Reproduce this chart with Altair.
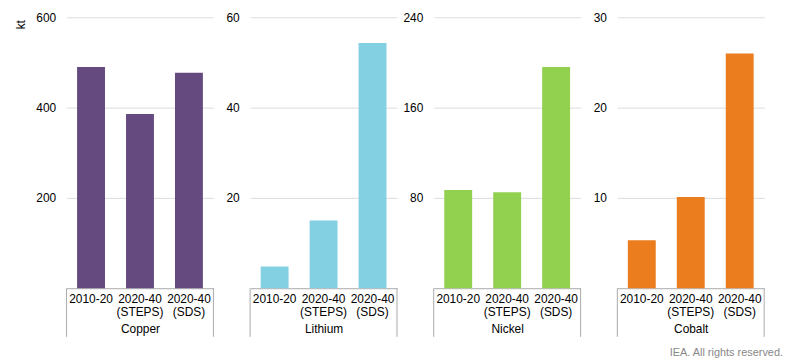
import altair as alt
import pandas as pd

minerals = ["Copper", "Lithium", "Nickel", "Cobalt"]
periods = ["2010-20", "2020-40\n(STEPS)", "2020-40\n(SDS)"]
copper = [490, 386, 477]
lithium = [4.8, 15, 54.3]
nickel = [87, 85, 196]
cobalt = [5.3, 10.1, 26]
series = [copper, lithium, nickel, cobalt]
y_max = [600, 60, 240, 30]
y_ticks = [[200, 400, 600], [20, 40, 60], [80, 160, 240], [10, 20, 30]]
colors = ["#654A80", "#83D0E2", "#92D050", "#EB7D1E"]
footer = "IEA. All rights reserved."

W, H = 148, 273
BOX = 49

panels = []
for i, m in enumerate(minerals):
    df = pd.DataFrame({"period": periods, "value": series[i]})
    yaxis_kw = dict(values=y_ticks[i], grid=True, gridColor="#dddddd", domain=False,
                    ticks=False, tickSize=0, labelPadding=11, labelFontSize=12,
                    labelColor="#000000")
    if i == 0:
        yaxis_kw.update(title="kt", titleX=-39, titleY=7, titleAlign="center",
                        titleFontSize=12, titleFontWeight="normal", titleColor="#000000")
    else:
        yaxis_kw.update(title=None)
    bars = alt.Chart(df).mark_bar(color=colors[i]).encode(
        x=alt.X("period:N", sort=periods,
                scale=alt.Scale(paddingInner=0.43, paddingOuter=0.215),
                axis=alt.Axis(title=m, labelExpr="split(datum.label, '\\n')",
                              labelAngle=0, labelFontSize=12, labelColor="#000000",
                              labelLineHeight=14, labelPadding=5, labelBaseline="top",
                              domain=True, domainColor="#aaaaaa", ticks=False, tickSize=0,
                              titleFontSize=12, titleFontWeight="normal",
                              titleColor="#000000", titleY=41, titleBaseline="middle")),
        y=alt.Y("value:Q", scale=alt.Scale(domain=[0, y_max[i]], nice=False),
                axis=alt.Axis(**yaxis_kw)),
    )
    one = pd.DataFrame({"k": [0]})
    left_rule = alt.Chart(one).mark_rule(color="#aaaaaa", strokeWidth=1).encode(
        x=alt.value(0), y=alt.value(H), y2=alt.value(H + BOX))
    right_rule = alt.Chart(one).mark_rule(color="#aaaaaa", strokeWidth=1).encode(
        x=alt.value(W), y=alt.value(H), y2=alt.value(H + BOX))
    layers = [bars, left_rule, right_rule]
    if i == len(minerals) - 1:
        foot = alt.Chart(pd.DataFrame({"t": [footer]})).mark_text(
            align="right", baseline="middle", fontSize=11, color="#888888"
        ).encode(x=alt.value(167), y=alt.value(H + 65), text="t:N")
        layers.append(foot)
    panels.append(alt.layer(*layers).properties(width=W, height=H))

chart = alt.hconcat(*panels, spacing=37, bounds="flush").properties(
    padding={"left": 7, "top": 2, "right": 5, "bottom": 5}
).configure(font="Liberation Sans").configure_view(stroke=None)

chart.save("out.html", embed_options={"renderer": "svg", "actions": False})
